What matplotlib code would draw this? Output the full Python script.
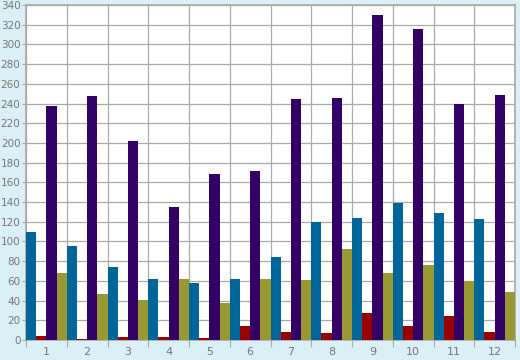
import numpy as np
import matplotlib.pyplot as plt

# 数据
categories = ['1', '2', '3', '4', '5', '6', '7', '8', '9', '10', '11', '12']
blue_vals = [110, 95, 74, 62, 58, 62, 84, 120, 124, 139, 129, 123]
red_vals = [4, 1, 3, 3, 2, 14, 8, 7, 27, 14, 24, 8]
purple_vals = [237, 248, 202, 135, 168, 172, 245, 246, 330, 316, 240, 249]
olive_vals = [68, 47, 41, 62, 38, 62, 61, 92, 68, 76, 60, 49]

series = [blue_vals, red_vals, purple_vals, olive_vals]
colors = ['#006699', '#990000', '#330066', '#999933']

bg = '#daeff6'
grid_c = '#aaaaaa'
text_c = '#777777'

fig = plt.figure(figsize=(5.2, 3.6), dpi=100, facecolor=bg)
ax = fig.add_axes([26 / 520, 1 - 340 / 360, 489 / 520, 335 / 360])
ax.set_facecolor('white')

x = np.arange(1, len(categories) + 1)
w = 0.25
for k, (vals, c) in enumerate(zip(series, colors)):
    ax.bar(x - 0.375 + k * w, vals, width=w, color=c, zorder=3, linewidth=0)

ax.set_xlim(0.5, 12.5)
ax.set_ylim(0, 340)
ax.set_yticks(np.arange(0, 341, 20))

# 类别标签居中, 刻度线和网格线在类别边界
ax.set_xticks(x)
ax.set_xticklabels(categories)
ax.set_xticks(np.arange(0.5, 12.6, 1), minor=True)
ax.tick_params(axis='x', which='major', length=0, pad=5, labelsize=8)
ax.tick_params(axis='x', which='minor', length=5, color=grid_c, width=0.8)
ax.tick_params(axis='y', length=3, color=grid_c, width=0.8, pad=1, labelsize=7.5)
ax.tick_params(labelcolor=text_c)

ax.grid(True, axis='y', color=grid_c, linewidth=0.9, zorder=0)
ax.grid(True, axis='x', which='minor', color=grid_c, linewidth=0.9, zorder=0)
for s in ax.spines.values():
    s.set_color(grid_c)
    s.set_linewidth(1.2)

fig.savefig('out.png', dpi=100, facecolor=bg)
